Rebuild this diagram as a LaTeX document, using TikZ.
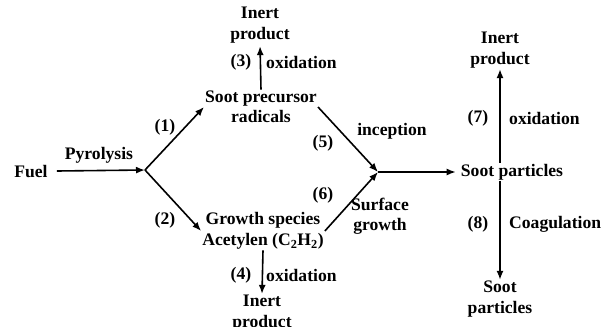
\documentclass[tikz,border=0pt]{standalone}
\usepackage{fontspec}
\setmainfont{Liberation Serif}
\usetikzlibrary{arrows.meta}
\begin{document}
\begin{tikzpicture}[x=1pt,y=-1pt,
  every node/.style={font=\fontsize{17.6}{20.5}\selectfont\bfseries, inner sep=1pt, align=center},
  arr/.style={line width=1.6pt, -{Latex[length=9pt,width=7pt]}}]
\useasboundingbox (0,0) rectangle (606,327);
\node (fuel) at (31,171) {Fuel};
\coordinate (J1) at (145,170);
\node (pyro) at (99,155) {Pyrolysis};
\node (prec) at (261,107) {Soot precursor\\radicals};
\node (l1) at (165,127) {(1)};
\node (l2) at (165,220) {(2)};
\node (inert1) at (260,25) {Inert\\product};
\node (l3) at (241,62) {(3)};
\node[anchor=west] (ox3) at (265,62) {oxidation};
\node (growth) at (263,231) {Growth species\\Acetylen (C\textsubscript{2}H\textsubscript{2})};
\node (l4) at (241,275) {(4)};
\node[anchor=west] (ox4) at (265,275) {oxidation};
\node (inert2) at (262,313) {Inert\\product};
\coordinate (J2) at (378,172);
\node (l5) at (323,143) {(5)};
\node (incep) at (392,131) {inception};
\node (l6) at (323,195) {(6)};
\node (surf) at (380,216) {Surface\\growth};
\node (soot) at (512,172) {Soot particles};
\node (inert3) at (500,50) {Inert\\product};
\node (l7) at (478,118) {(7)};
\node[anchor=west] (ox7) at (508,118) {oxidation};
\node (l8) at (478,224) {(8)};
\node[anchor=west] (coag) at (508,224) {Coagulation};
\node (soot2) at (500,299) {Soot\\particles};

\draw[arr] (fuel.east) ++(8,0) -- (J1);
\draw[arr] (J1) -- (prec.west);
\draw[arr] (J1) -- (growth.west);
\draw[arr, shorten >=2pt] (prec.north) -- (inert1.south);
\draw[arr] (growth.south) -- (inert2.north);
\draw[arr] (prec.east) -- (J2);
\draw[arr] (growth.east) -- (J2);
\draw[arr, shorten >=4pt] (J2) -- (soot.west);
\draw[arr] (soot.north -| inert3.south) -- (inert3.south);
\draw[arr] (soot.south -| soot2.north) -- (soot2.north);
\end{tikzpicture}
\end{document}
